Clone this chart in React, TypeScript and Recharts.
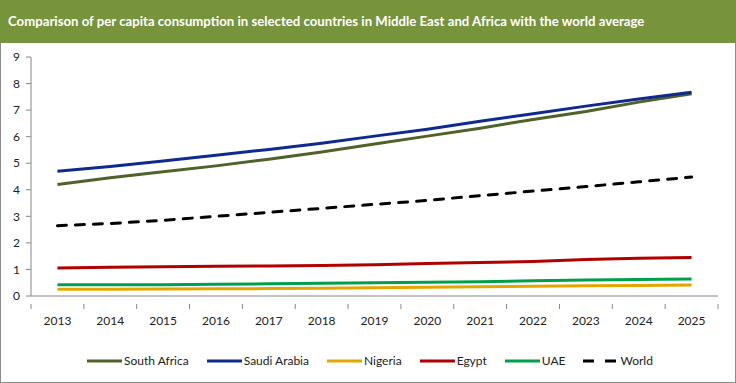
import { Legend, Line, LineChart, XAxis, YAxis } from "recharts";

const years = ["2013", "2014", "2015", "2016", "2017", "2018", "2019", "2020", "2021", "2022", "2023", "2024", "2025"];
const southAfrica = [4.2, 4.45, 4.68, 4.9, 5.15, 5.42, 5.72, 6.02, 6.32, 6.65, 6.95, 7.3, 7.62];
const saudiArabia = [4.7, 4.88, 5.08, 5.3, 5.52, 5.75, 6.02, 6.28, 6.58, 6.86, 7.15, 7.42, 7.67];
const nigeria = [0.25, 0.25, 0.26, 0.27, 0.28, 0.29, 0.31, 0.33, 0.35, 0.37, 0.39, 0.4, 0.41];
const egypt = [1.05, 1.08, 1.1, 1.12, 1.13, 1.15, 1.18, 1.22, 1.26, 1.3, 1.37, 1.42, 1.45];
const uae = [0.42, 0.42, 0.42, 0.44, 0.46, 0.48, 0.5, 0.52, 0.54, 0.57, 0.6, 0.62, 0.64];
const world = [2.65, 2.73, 2.85, 3.0, 3.15, 3.3, 3.45, 3.6, 3.78, 3.95, 4.12, 4.3, 4.48];
const yTicks = [0, 1, 2, 3, 4, 5, 6, 7, 8, 9];

const series = [
  { key: "sa", name: "South Africa", color: "#4F6228", values: southAfrica },
  { key: "ksa", name: "Saudi Arabia", color: "#0F2A8F", values: saudiArabia },
  { key: "ng", name: "Nigeria", color: "#E3A600", values: nigeria },
  { key: "eg", name: "Egypt", color: "#B00000", values: egypt },
  { key: "uae", name: "UAE", color: "#00A04B", values: uae },
  { key: "world", name: "World", color: "#000000", values: world, dashed: true },
];

const data = years.map((y, i) => {
  const row: Record<string, string | number> = { year: y };
  series.forEach((s) => (row[s.key] = s.values[i]));
  return row;
});

const FONT = "Lato, 'Liberation Sans', sans-serif";
const AXIS = "#868686";
const STEP = (718 - 31) / years.length;

// Excel-style: tick marks sit between categories, labels in the middle
function YearTick(props: any) {
  const { x, y, payload, index } = props;
  const left = x - STEP / 2;
  return (
    <g>
      <line x1={left} y1={y} x2={left} y2={y + 5} stroke={AXIS} />
      {index === years.length - 1 && <line x1={x + STEP / 2} y1={y} x2={x + STEP / 2} y2={y + 5} stroke={AXIS} />}
      <text x={x} y={y + 21} textAnchor="middle" fontSize={12} fill="#222" fontFamily={FONT}>
        {payload.value}
      </text>
    </g>
  );
}

function LegendBox() {
  return (
    <div
      style={{
        display: "flex",
        justifyContent: "center",
        gap: 18,
        fontFamily: FONT,
        fontSize: 12,
        color: "#222",
        paddingLeft: 22,
      }}
    >
      {series.map((s) => (
        <div key={s.key} style={{ display: "flex", alignItems: "center" }}>
          <svg width={37} height={10}>
            <line
              x1={0}
              y1={5}
              x2={35}
              y2={5}
              stroke={s.color}
              strokeWidth={3}
              strokeDasharray={s.dashed ? "11 11" : undefined}
            />
          </svg>
          <span>{s.name}</span>
        </div>
      ))}
    </div>
  );
}

export default function App() {
  return (
    <div style={{ position: "absolute", left: 0, top: 0, width: 736, height: 383, background: "#fff" }}>
      <div style={{ position: "absolute", left: 0, top: 0, width: 734, height: 381, border: "1px solid #8c8c8c" }} />
      <div
        style={{
          position: "absolute",
          left: 0,
          top: 0,
          width: 736,
          height: 43,
          background: "#77933C",
          color: "#fff",
          fontFamily: FONT,
          fontWeight: 700,
          fontSize: 13.2,
          lineHeight: "43px",
          paddingLeft: 8,
          boxSizing: "border-box",
          whiteSpace: "nowrap",
        }}
      >
        Comparison of per capita consumption in selected countries in Middle East and Africa with the world average
      </div>
      <div style={{ position: "absolute", left: 0, top: 43 }}>
        <LineChart width={736} height={338} data={data} margin={{ top: 14, right: 18, bottom: 8, left: 0 }}>
          <XAxis
            dataKey="year"
            interval={0}
            tickLine={false}
            stroke={AXIS}
            height={57}
            padding={{ left: STEP / 2, right: STEP / 2 }}
            tick={<YearTick />}
          />
          <YAxis
            domain={[0, 9]}
            ticks={yTicks}
            interval={0}
            width={31}
            stroke={AXIS}
            tickSize={5}
            tickMargin={6}
            tick={{ fontSize: 12, fill: "#222", fontFamily: FONT }}
          />
          <Legend verticalAlign="bottom" height={20} content={<LegendBox />} />
          {series.map((s) => (
            <Line
              key={s.key}
              type="linear"
              dataKey={s.key}
              name={s.name}
              stroke={s.color}
              strokeWidth={3}
              strokeDasharray={s.dashed ? "9 9" : undefined}
              strokeLinecap={s.dashed ? "round" : "butt"}
              dot={false}
              activeDot={false}
              isAnimationActive={false}
            />
          ))}
        </LineChart>
      </div>
    </div>
  );
}
